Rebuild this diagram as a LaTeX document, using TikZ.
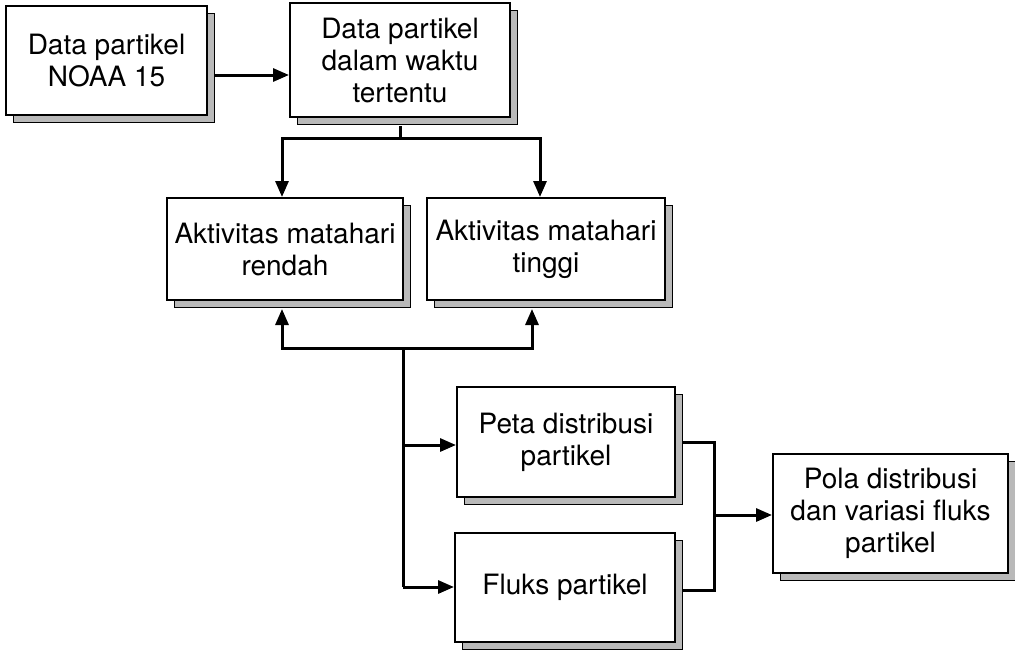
\documentclass[tikz,border=0pt]{standalone}
\usepackage{fontspec}
\setmainfont{TeX Gyre Heros}
\usetikzlibrary{shadows,arrows.meta,calc}
\begin{document}
\begin{tikzpicture}[x=1pt,y=-1pt,
  fbox/.style={draw=black, fill=white, line width=2pt, align=center, inner sep=0pt,
    font=\fontsize{28}{32}\selectfont,
    drop shadow={shadow xshift=7pt, shadow yshift=-7pt, fill=gray!55, draw=black, line width=1pt, opacity=1}},
  conn/.style={line width=3pt},
  arr/.style={line width=3pt, -{Triangle[length=16pt,width=13pt]}}]
\useasboundingbox (0,0) rectangle (1015,649);
\node[fbox, minimum width=201pt, minimum height=109pt] (A) at (106.5,60.5) {Data partikel\\NOAA 15};
\node[fbox, minimum width=220pt, minimum height=114pt] (B) at (400,60) {Data partikel\\dalam waktu\\tertentu};
\node[fbox, minimum width=236pt, minimum height=102pt] (C) at (285,249) {Aktivitas matahari\\rendah};
\node[fbox, minimum width=238pt, minimum height=102pt] (D) at (546,249) {Aktivitas matahari\\tinggi};
\node[fbox, minimum width=218pt, minimum height=110pt] (E) at (566,442) {Peta distribusi\\partikel};
\node[fbox, minimum width=220pt, minimum height=109pt] (F) at (565,587.5) {Fluks partikel};
\node[fbox, minimum width=235pt, minimum height=119pt] (G) at (890.5,513.5) {Pola distribusi\\dan variasi fluks\\partikel};
% A -> B
\coordinate (yab) at (0,75);
\draw[arr] ([xshift=7pt]A.east |- yab) -- (B.west |- yab);
% B -> C, D
\coordinate (j1) at (400,138);
\draw[conn] ([yshift=-8pt]B.south) -- (j1);
\coordinate (cx) at (282,0);
\coordinate (dx) at (540,0);
\draw[arr] (j1) -| (cx |- C.north);
\draw[arr] (j1) -| (dx |- D.north);
% up arrows to C, D
\coordinate (j2) at (403,348);
\coordinate (dx2) at (532,0);
\draw[arr] (j2) -| ([yshift=-8pt]cx |- C.south);
\draw[arr] (j2) -| ([yshift=-8pt]dx2 |- D.south);
% down to E, F
\coordinate (ye) at (0,445);
\coordinate (yf) at (0,587);
\draw[conn] (j2) -- (j2 |- yf);
\draw[arr] (j2 |- ye) -- (E.west |- ye);
\draw[arr] (j2 |- yf) -- (F.west |- yf);
% E, F -> G
\coordinate (j3) at (714,515);
\coordinate (ye2) at (0,442);
\coordinate (yf2) at (0,590);
\draw[conn] ([xshift=7pt]E.east |- ye2) -| (j3) |- ([xshift=7pt]F.east |- yf2);
\draw[arr] (j3) -- (G.west |- j3);
\end{tikzpicture}
\end{document}
